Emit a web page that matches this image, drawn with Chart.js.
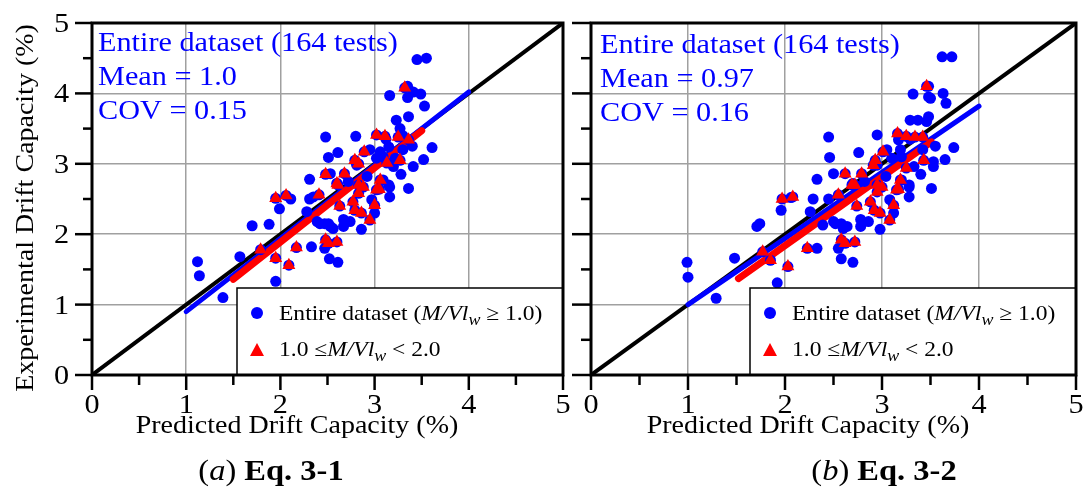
<!DOCTYPE html>
<html>
<head>
<meta charset="utf-8">
<script src="https://cdn.jsdelivr.net/npm/chart.js@4.4.1/dist/chart.umd.min.js"></script>
<style>
  html, body { margin: 0; padding: 0; background: #fff; }
  #wrap { position: relative; width: 1086px; height: 499px; overflow: hidden; }
  canvas { position: absolute; top: 0; }
  #ca { left: 0; }
  #cb { left: 568px; }
</style>
</head>
<body>
<div id="wrap">
  <canvas id="ca" width="575" height="499" style="width:575px;height:499px"></canvas>
  <canvas id="cb" width="518" height="499" style="width:518px;height:499px"></canvas>
</div>
<script>
// ---- data: [predicted drift %, experimental drift %] ----
// Eq. 3-1, tests outside 1.0 <= M/Vlw < 2.0
const otherA = [
  [1.12,1.61],[1.14,1.41],[1.39,1.10],[1.57,1.68],[1.70,2.12],[1.88,2.14],[1.99,2.36],[2.11,2.50],[1.95,1.33],[2.33,1.82],
  [2.48,3.38],[2.51,3.09],[2.61,3.16],[2.31,2.78],[2.31,2.50],[2.28,2.32],[2.42,2.15],[2.51,2.15],[2.56,2.08],[2.47,1.80],
  [2.52,1.65],[2.61,1.60],[3.45,4.48],[3.55,4.50],[3.35,4.10],[3.16,3.97],[3.41,4.02],[3.49,3.99],[3.35,3.94],[3.53,3.82],
  [2.80,3.39],[3.23,3.62],[3.36,3.67],[3.27,3.50],[3.61,3.23],[3.52,3.06],[3.41,2.96],[3.36,2.65],[2.81,2.98],
  [2.53,2.86],[3.15,3.24],[3.02,3.08],[3.09,3.10],[3.22,3.08],[3.15,2.70],[3.16,2.53],[2.86,2.07],[2.67,2.21],[2.74,2.18],
  [2.67,2.11],[2.53,2.11],[2.47,2.15],[2.39,2.18],[3.00,2.30],[2.97,2.49],[3.20,2.96],[3.30,3.20],[3.09,2.77],[3.16,2.67],
  [3.06,3.17],[2.72,2.75],[2.92,2.82],[2.35,2.53],[2.60,2.72],[3.30,3.40],[3.12,3.35],[2.95,3.20],[3.40,3.25],[3.28,2.85]
];
// Eq. 3-1, tests with 1.0 <= M/Vlw < 2.0
const lowA = [
  [1.95,2.51],[2.06,2.55],[1.79,1.78],[1.95,1.66],[2.09,1.56],[2.17,1.81],[2.48,2.85],[2.41,2.56],[2.48,1.92],[2.60,1.89],
  [3.32,4.08],[3.02,3.41],[3.11,3.39],[3.25,3.38],[3.36,3.34],[2.89,3.17],[2.79,3.05],[2.83,3.00],[2.68,2.86],[2.60,2.72],
  [2.88,2.67],[3.02,2.63],[2.83,2.58],[3.06,2.77],[3.05,2.64],[3.00,2.41],[2.95,2.20],[2.77,2.46],[2.79,2.34],[2.86,2.30],
  [2.63,2.40],[2.83,2.70],[2.61,2.70],[2.51,1.87],[3.27,3.05],[3.13,3.01]
];
// Eq. 3-2, tests outside 1.0 <= M/Vlw < 2.0
const otherB = [
  [0.99,1.60],[1.00,1.39],[1.29,1.09],[1.48,1.66],[1.71,2.11],[1.74,2.15],[1.96,2.34],[2.06,2.52],[1.92,1.31],[2.33,1.80],
  [2.45,3.38],[2.46,3.09],[2.76,3.16],[2.33,2.78],[2.29,2.50],[2.26,2.32],[2.39,2.13],[2.52,2.15],[2.60,2.08],[2.55,1.80],
  [2.58,1.65],[2.70,1.60],[3.62,4.52],[3.72,4.52],[3.48,4.10],[3.32,3.99],[3.63,4.00],[3.48,3.95],[3.50,3.93],[3.66,3.86],
  [2.95,3.41],[3.29,3.62],[3.48,3.67],[3.37,3.62],[3.74,3.23],[3.65,3.06],[3.53,2.96],[3.51,2.65],[2.95,2.98],
  [2.50,2.86],[3.19,3.20],[3.10,3.08],[3.20,3.10],[3.53,3.03],[3.28,2.70],[3.28,2.53],[2.98,2.07],[2.78,2.21],[2.86,2.18],
  [2.78,2.11],[2.64,2.11],[2.58,2.15],[2.50,2.18],[3.12,2.30],[3.08,2.49],[3.33,2.96],[3.42,3.20],[3.20,2.77],[3.28,2.67],
  [3.17,3.34],[2.82,2.75],[3.04,2.82],[2.45,2.50],[2.70,2.72],[3.46,3.60],[3.29,3.35],[3.05,3.20],[3.55,3.25],[3.40,2.85]
];
// Eq. 3-2, tests with 1.0 <= M/Vlw < 2.0
const lowB = [
  [1.97,2.50],[2.08,2.53],[1.77,1.75],[1.85,1.63],[2.03,1.54],[2.23,1.80],[2.62,2.86],[2.55,2.56],[2.58,1.92],[2.72,1.89],
  [3.46,4.10],[3.16,3.43],[3.25,3.39],[3.34,3.38],[3.42,3.38],[3.01,3.17],[2.93,3.05],[2.91,2.98],[2.79,2.86],[2.69,2.70],
  [3.00,2.67],[3.15,2.63],[2.95,2.60],[3.19,2.77],[3.17,2.64],[3.12,2.41],[3.08,2.20],[2.88,2.46],[2.92,2.34],[2.98,2.30],
  [2.74,2.40],[2.95,2.70],[2.72,2.70],[2.62,1.87],[3.43,3.05],[3.25,2.94]
];

// trend lines (end points)
const fitAllA = [[1.00,0.90],[4.00,4.02]];
const fitLowA = [[1.50,1.36],[3.50,3.47]];
const fitAllB = [[1.00,1.00],[4.00,3.82]];
const fitLowB = [[1.52,1.37],[3.51,3.31]];
const equality = [[0,0],[5,5]];
const axisTicks = [0,1,2,3,4,5];

const statsA = ['Entire dataset (164 tests)', 'Mean = 1.0', 'COV = 0.15'];
const statsB = ['Entire dataset (164 tests)', 'Mean = 0.97', 'COV = 0.16'];

const SERIF = "'Liberation Serif', 'Times New Roman', serif";
const BLUE = '#0000ff', RED = '#ff0000';
const SX = 1.12; // text is set slightly wide

const toXY = arr => arr.map(p => ({ x: p[0], y: p[1] }));

// draw a sequence of differently styled text pieces on one baseline
function drawRuns(ctx, x, y, runs, align) {
  let w = 0;
  runs.forEach(r => { ctx.font = r.font; w += ctx.measureText(r.t).width; });
  const W = w * SX;
  const start = align === 'center' ? x - W / 2 : align === 'right' ? x - W : x;
  ctx.save();
  ctx.translate(start, y);
  ctx.scale(SX, 1);
  ctx.textAlign = 'left';
  ctx.textBaseline = 'alphabetic';
  let cx = 0;
  runs.forEach(r => {
    ctx.font = r.font;
    ctx.fillStyle = r.color || '#000';
    ctx.fillText(r.t, cx, r.dy || 0);
    cx += ctx.measureText(r.t).width;
  });
  ctx.restore();
}

const decorations = {
  id: 'decorations',
  afterDraw(chart, args, o) {
    const ctx = chart.ctx, a = chart.chartArea;
    const xs = chart.scales.x, ys = chart.scales.y;
    ctx.save();

    // tick marks (major at integers, minor at halves)
    ctx.strokeStyle = '#000';
    ctx.lineWidth = 2.5;
    ctx.lineCap = 'butt';
    for (let v = 0; v <= 5.001; v += 0.5) {
      const major = Math.abs(v - Math.round(v)) < 1e-6;
      const py = ys.getPixelForValue(v);
      ctx.beginPath();
      ctx.moveTo(a.left - (major ? o.yMajor : o.yMinor), py);
      ctx.lineTo(a.left, py);
      ctx.stroke();
      const px = xs.getPixelForValue(v);
      ctx.beginPath();
      ctx.moveTo(px, a.bottom);
      ctx.lineTo(px, a.bottom + (major ? 15 : 10));
      ctx.stroke();
    }

    // tick labels
    const kf = '27px ' + SERIF;
    axisTicks.forEach(v => {
      drawRuns(ctx, xs.getPixelForValue(v), a.bottom + 38, [{ t: String(v), font: kf }], 'center');
      if (o.yLabels) {
        drawRuns(ctx, a.left - 23, ys.getPixelForValue(v) + 9, [{ t: String(v), font: kf }], 'right');
      }
    });

    // statistics text
    const sf = '27px ' + SERIF;
    o.stats.forEach((s, i) => {
      drawRuns(ctx, o.statsX, o.statsY[i], [{ t: s, font: sf, color: BLUE }]);
    });

    // legend box
    const L = o.legend;
    ctx.fillStyle = '#fff';
    ctx.fillRect(L.x, L.y, a.right - L.x, a.bottom - L.y);
    ctx.strokeStyle = '#000';
    ctx.lineWidth = 1.5;
    ctx.strokeRect(L.x, L.y, a.right - L.x, a.bottom - L.y);
    const mx = L.x + 20;
    ctx.fillStyle = BLUE;
    ctx.beginPath();
    ctx.arc(mx, L.y + 25, 6, 0, Math.PI * 2);
    ctx.fill();
    ctx.fillStyle = RED;
    ctx.beginPath();
    ctx.moveTo(mx, L.y + 55);
    ctx.lineTo(mx + 7, L.y + 68);
    ctx.lineTo(mx - 7, L.y + 68);
    ctx.closePath();
    ctx.fill();
    const rf = '21px ' + SERIF, itf = 'italic 21px ' + SERIF, sub = 'italic 16px ' + SERIF;
    drawRuns(ctx, mx + 22, L.y + 32, [
      { t: 'Entire dataset (', font: rf },
      { t: 'M/Vl', font: itf },
      { t: 'w', font: sub, dy: 5 },
      { t: ' \u2265 1.0)', font: rf }
    ]);
    drawRuns(ctx, mx + 22, L.y + 68, [
      { t: '1.0 \u2264', font: rf },
      { t: 'M/Vl', font: itf },
      { t: 'w', font: sub, dy: 5 },
      { t: ' < 2.0', font: rf }
    ]);

    // axis titles
    const tf = '25px ' + SERIF;
    drawRuns(ctx, o.xTitleX, 433, [{ t: 'Predicted Drift Capacity (%)', font: tf }], 'center');
    if (o.yTitle) {
      ctx.save();
      ctx.translate(33, 208);
      ctx.rotate(-Math.PI / 2);
      drawRuns(ctx, 0, 0, [{ t: 'Experimental Drift Capacity (%)', font: tf }], 'center');
      ctx.restore();
    }

    // panel caption
    drawRuns(ctx, o.capX, 480, [
      { t: '(', font: '29px ' + SERIF },
      { t: o.capLetter, font: 'italic 29px ' + SERIF },
      { t: ') ', font: '29px ' + SERIF },
      { t: o.capText, font: 'bold 29px ' + SERIF }
    ], 'center');

    // plot frame
    ctx.strokeStyle = '#000';
    ctx.lineWidth = 3;
    ctx.strokeRect(a.left, a.top, a.right - a.left, a.bottom - a.top);
    ctx.restore();
  }
};

function makePanel(id, entire, low, fitAll, fitLow, cfg) {
  return new Chart(document.getElementById(id), {
    type: 'scatter',
    data: {
      datasets: [
        { data: toXY(low), pointStyle: 'triangle', pointRadius: 7.5, backgroundColor: RED, borderColor: RED,
          borderWidth: 0, order: 0 },
        { data: toXY(entire), pointStyle: 'circle', pointRadius: 5.5, backgroundColor: BLUE, borderColor: BLUE,
          borderWidth: 0, order: 1 },
        { data: toXY(fitLow), showLine: true, pointRadius: 0, borderColor: RED, borderWidth: 7,
          borderCapStyle: 'round', order: 2 },
        { data: toXY(fitAll), showLine: true, pointRadius: 0, borderColor: BLUE, borderWidth: 5,
          borderCapStyle: 'round', order: 3 },
        { data: toXY(equality), showLine: true, pointRadius: 0, borderColor: '#000', borderWidth: 4,
          order: 4 }
      ]
    },
    options: {
      responsive: false,
      animation: false,
      events: [],
      layout: { padding: { top: 23, right: cfg.padRight, left: 0, bottom: 0 } },
      plugins: {
        legend: { display: false },
        tooltip: { enabled: false },
        decorations: cfg.deco
      },
      scales: {
        x: {
          type: 'linear', min: 0, max: 5,
          afterBuildTicks: s => { s.ticks = axisTicks.map(v => ({ value: v })); },
          ticks: { display: false },
          grid: { color: '#a0a0a0', lineWidth: 1.5, drawTicks: false },
          border: { display: false },
          afterFit: s => { s.height = 124; }
        },
        y: {
          type: 'linear', min: 0, max: 5,
          afterBuildTicks: s => { s.ticks = axisTicks.map(v => ({ value: v })); },
          ticks: { display: false },
          grid: { color: '#a0a0a0', lineWidth: 1.5, drawTicks: false },
          border: { display: false },
          afterFit: s => { s.width = cfg.yWidth; }
        }
      }
    },
    plugins: [decorations]
  });
}

makePanel('ca', otherA.concat(lowA), lowA, fitAllA, fitLowA, {
  padRight: 12, yWidth: 92,
  deco: {
    yMajor: 17, yMinor: 9, yLabels: true, stats: statsA, statsX: 98, statsY: [51, 85, 119],
    legend: { x: 237, y: 288 }, xTitleX: 297, yTitle: true,
    capX: 271, capLetter: 'a', capText: 'Eq. 3-1'
  }
});

makePanel('cb', otherB.concat(lowB), lowB, fitAllB, fitLowB, {
  padRight: 10, yWidth: 23,
  deco: {
    yMajor: 19, yMinor: 10, yLabels: false, stats: statsB, statsX: 32, statsY: [53, 87, 121],
    legend: { x: 182, y: 288 }, xTitleX: 240, yTitle: false,
    capX: 316, capLetter: 'b', capText: 'Eq. 3-2'
  }
});
</script>
</body>
</html>
